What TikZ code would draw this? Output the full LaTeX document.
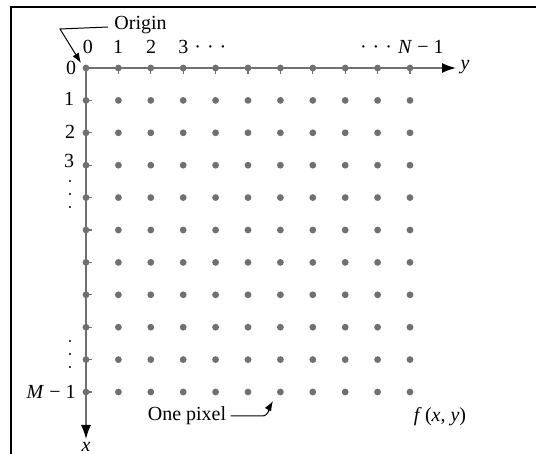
\documentclass[tikz,border=0pt]{standalone}
\usepackage{fontspec}
\setmainfont{Liberation Serif}
\usetikzlibrary{arrows.meta}
\definecolor{dotgray}{RGB}{112,112,112}
\begin{document}
\begin{tikzpicture}[x=0.5pt,y=-0.5pt,
  dot/.style={circle,fill=dotgray,inner sep=0pt,minimum size=3.4pt},
  lbl/.style={inner sep=0pt,font=\fontsize{10}{11}\selectfont},
  vdot/.style={circle,fill=black,inner sep=0pt,minimum size=1.1pt},
  axis/.style={draw=dotgray,line width=0.75pt,-{Latex[length=7pt,width=5pt,fill=black,color=black]}},
  tick/.style={draw=dotgray,line width=0.6pt},
  ptr/.style={draw=black,line width=0.5pt,-{Latex[length=5pt,width=3.6pt]}},
  frame/.style={draw=black,line width=1.2pt}]
\useasboundingbox (0,0) rectangle (536,454);
\fill[white] (0,0) rectangle (536,454);
% frame (top and left edges)
\coordinate (fa) at (11,454);
\coordinate (fb) at (11,7);
\coordinate (fc) at (536,7);
\draw[frame] (fa) -- (fb) -- (fc);
% grid of pixels
\foreach \i in {0,...,10}{
  \foreach \j in {0,...,10}{
    \node[dot] (p-\i-\j) at ({86+32.4*\j},{68+32.4*\i}) {};
  }
}
% axes
\coordinate (yend) at (456,68);
\coordinate (xend) at (86,439);
\draw[axis] (p-0-0.center) -- (yend);
\draw[axis] (p-0-0.center) -- (xend);
% ticks on axis dots
\foreach \j in {1,...,10}{\draw[tick] (p-0-\j.center) -- ++(0,6);}
\foreach \i in {1,...,10}{\draw[tick] (p-\i-0.center) -- ++(6,0);}
% axis labels
\node[lbl,font=\fontsize{10}{11}\selectfont\itshape] (ylab) at (465,67) {y};
\node[lbl,font=\fontsize{10}{11}\selectfont\itshape] (xlab) at (86,447) {x};
% column labels
\node[lbl] (c0) at (88,47) {0};
\node[lbl] (c1) at (118,47) {1};
\node[lbl] (c2) at (151,47) {2};
\node[lbl,anchor=west] (c3) at (178,47) {3\hspace{0.3em}·\hspace{0.3em}·\hspace{0.3em}·};
\node[lbl,anchor=east] (cN) at (444,47) {·\hspace{0.3em}·\hspace{0.3em}·\hspace{0.3em}\textit{N}\hspace{0.25em}−\hspace{0.25em}1};
% row labels
\node[lbl] (r0) at (71,68) {0};
\node[lbl] (r1) at (69,99) {1};
\node[lbl] (r2) at (70,132) {2};
\node[lbl] (r3) at (69,161) {3};
% vertical ellipses
\foreach \k/\yy in {a/181,b/194,c/207,d/341,e/354,f/367}{
  \node[vdot] (v-\k) at (70,\yy) {};
}
\node[lbl,anchor=east] (rM) at (76,392) {\textit{M}\hspace{0.25em}−\hspace{0.25em}1};
% Origin annotation
\node[lbl,anchor=west] (origin) at (114,25) {Origin};
\coordinate (o1) at (60,29);
\coordinate (otip) at (81,63);
\draw[ptr] ([xshift=-3pt,yshift=-1pt]origin.west) -- (o1) -- (otip);
% One pixel annotation
\node[lbl] (pix) at (187,416) {One pixel};
\coordinate (pb) at (262,416);
\coordinate (ptip) at (273,401);
\draw[ptr] ([xshift=2pt]pix.east) -- (pb) to[out=0,in=240] (ptip);
% f(x,y)
\node[lbl] (fxy) at (440,417) {\textit{f}\,(\textit{x}, \textit{y})};
\end{tikzpicture}
\end{document}
